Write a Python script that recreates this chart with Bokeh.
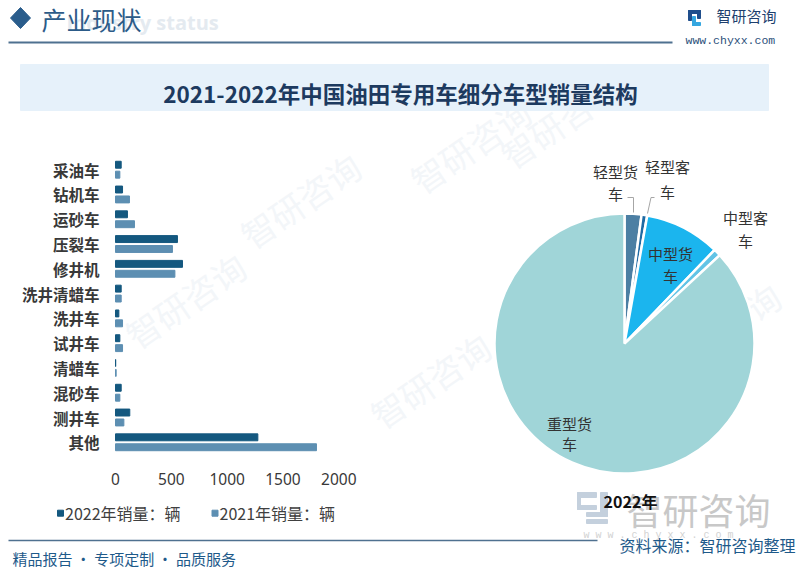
import numpy as np
from bokeh.plotting import figure
from bokeh.models import Range1d, ColumnDataSource
from bokeh.core.properties import value
from bokeh.transform import dodge
from bokeh.embed import file_html
from bokeh.resources import INLINE

# ---------------- data ----------------
categories = ["采油车", "钻机车", "运砂车", "压裂车", "修井机", "洗井清蜡车",
              "洗井车", "试井车", "清蜡车", "混砂车", "测井车", "其他"]
sales_2022 = [51, 63, 107, 555, 600, 51, 30, 39, 2, 51, 128, 1275]
sales_2021 = [39, 125, 170, 510, 532, 51, 63, 63, 6, 39, 75, 1800]
x_ticks = [0, 500, 1000, 1500, 2000]
series_names = ["2022年销量：辆", "2021年销量：辆"]

pie_labels = ["轻型货车", "轻型客车", "中型货车", "中型客车", "重型货车"]
pie_shares = [2.1, 0.7, 9.4, 0.9, 86.9]
pie_year = "2022年"

title_text = "2021-2022年中国油田专用车细分车型销量结构"

# ---------------- canvas ----------------
W, H = 800, 569
FONT = "Noto Sans CJK SC"


def X(px):
    return px


def Y(py):
    return H - py


p = figure(width=W, height=H, x_range=Range1d(0, W), y_range=Range1d(0, H),
           output_backend="svg", toolbar_location=None, min_border=0,
           x_axis_location=None, y_axis_location=None)
p.grid.visible = False
p.outline_line_color = None
p.background_fill_color = "white"
p.border_fill_color = "white"

# bar chart scales: value 0 -> page x 115, 2000 -> page x 338.3
ppu = (338.3 - 115) / 2000.0
bx0 = X(115)
p.extra_x_ranges = {"bar": Range1d(-bx0 / ppu, (W - bx0) / ppu)}
# category index 0 -> page y 169.2, step 24.78 px
cy0 = 169.2
step = 24.78
p.extra_y_ranges = {"bar": Range1d((H - cy0) / step, -cy0 / step)}


def txt(x, y, s, size, color, align="left", baseline="middle", bold=False,
        font=FONT, angle=0.0, alpha=1.0):
    p.text(x=[X(x)], y=[Y(y)], text=[s], text_font=value(font),
           text_font_size=f"{size}px", text_color=color, text_align=align,
           text_baseline=baseline, text_font_style="bold" if bold else "normal",
           angle=angle, text_alpha=alpha)


# ---------------- faint watermarks ----------------
wm_color = "#f3f6f9"
for (wx, wy) in [(185, 300), (470, 145), (430, 380), (300, 200), (560, 120),
                 (720, 330)]:
    txt(wx, wy, "智研咨询", 34, wm_color, align="center", angle=0.6)

# ---------------- header ----------------
p.patch([X(20), X(30), X(20), X(10)], [Y(7), Y(17.5), Y(28), Y(17.5)],
        color="#2a5d8c")
txt(66, 22, "Industry status", 20, "#e4eaf0", bold=True, font="Open Sans")
txt(41, 18, "产业现状", 25, "#2c5b88")
p.line([X(8), X(672)], [Y(42), Y(42)], line_color="#4f7190", line_width=2)

# logo
p.quad(left=[X(688), X(697), X(688)], right=[X(700), X(700), X(691)],
       top=[Y(10), Y(10), Y(10)], bottom=[Y(13), Y(18), Y(20)], color="#1f4e8c")
p.quad(left=[X(692), X(692)], right=[X(700), X(695)],
       top=[Y(22), Y(16)], bottom=[Y(25), Y(25)], color="#35a7e0")
txt(716, 15, "智研咨询", 15, "#1e3f6e")
txt(685, 40, "www.chyxx.com", 11.5, "#2a4f7a", font="Liberation Mono")

# title box
p.quad(left=[X(20)], right=[X(768)], top=[Y(64)], bottom=[Y(110)],
       color="#e6f1fa")
txt(400, 92, title_text, 22.5, "#1d3a5f", align="center", bold=True)

# ---------------- bar chart ----------------
idx = list(range(len(categories)))
src = ColumnDataSource(dict(idx=idx, cat=categories, v22=sales_2022,
                            v21=sales_2021))
c22, c21 = "#14587f", "#5d8fb2"
p.hbar(y=dodge("idx", -0.2), left=0, right="v22", height=0.28, source=src,
       color=c22, x_range_name="bar", y_range_name="bar")
p.hbar(y=dodge("idx", 0.2), left=0, right="v21", height=0.28, source=src,
       color=c21, x_range_name="bar", y_range_name="bar")
p.text(x=X(99), y="idx", text="cat", source=src, y_range_name="bar",
       text_font=value(FONT), text_font_size="15.5px", text_font_style="bold",
       text_color="#383838", text_align="right", text_baseline="middle")

# tick labels through the bar scale
p.text(x=x_ticks, y=[Y(478)] * len(x_ticks), text=[str(t) for t in x_ticks],
       x_range_name="bar", text_font=value("Noto Sans"), text_font_size="15.5px",
       text_color="#383838", text_align="center", text_baseline="middle")

# legend
for (lx, name, col) in [(60, series_names[0], c22), (214.5, series_names[1], c21)]:
    p.rect(x=[X(lx)], y=[Y(512.7)], width=6, height=6, color=col)
    txt(lx + 4.5, 512.7, name, 16, "#404040")

# ---------------- pie ----------------
shares = np.array(pie_shares, dtype=float)
shares = shares / shares.sum()
cum = np.concatenate([[0.0], np.cumsum(shares)])
starts = np.pi / 2 - 2 * np.pi * cum[:-1]
ends = np.pi / 2 - 2 * np.pi * cum[1:]
pie_colors = ["#4c7fa3", "#1f6aa3", "#1bb5ee", "#62c4e6", "#a0d5d8"]
psrc = ColumnDataSource(dict(s=starts, e=ends, c=pie_colors, lab=pie_labels))
p.wedge(x=X(624), y=Y(343), radius=130, radius_units="screen",
        start_angle="s", end_angle="e", direction="clock", fill_color="c",
        line_color="white", line_width=2.5, source=psrc)

# leader lines
p.line([X(627), X(633), X(633)], [Y(197), Y(197), Y(212)],
       line_color="#a6a6a6", line_width=1)
p.line([X(654), X(650.5), X(647)], [Y(197), Y(197), Y(213)],
       line_color="#a6a6a6", line_width=1)

label_pos = [((615, 171), (615, 193)),
             ((667, 166), (667, 191)),
             ((670, 253), (670, 275)),
             ((745, 217), (745, 240)),
             ((569, 423), (569, 443))]
for lab, (a, b) in zip(pie_labels, label_pos):
    txt(a[0], a[1], lab[:-1], 15, "#333333", align="center")
    txt(b[0], b[1], lab[-1], 15, "#333333", align="center")

# bottom-right watermark logo
p.quad(left=[X(577), X(577), X(577)], right=[X(596), X(580), X(596)],
       top=[Y(492), Y(492), Y(505)], bottom=[Y(497), Y(509), Y(509)],
       color="#c4d0dd")
p.quad(left=[X(586), X(586), X(600)], right=[X(607), X(607), X(607)],
       top=[Y(512), Y(519), Y(492)], bottom=[Y(516), Y(523), Y(516)],
       color="#c4d0dd")
txt(698, 508, "智研咨询", 36, "#c8c8c8", align="center")
txt(583, 535, "w w w . c h y x x . c o m", 10, "#d2d2d2", font="Liberation Mono")

txt(630, 500, pie_year, 16, "#111111", align="center", bold=True)

# ---------------- footer ----------------
p.line([X(8), X(597)], [Y(540), Y(540)], line_color="#4f7190", line_width=1.5)
txt(12, 558, "精品报告 · 专项定制 · 品质服务", 15, "#1e5a8a")
txt(795, 544, "资料来源：智研咨询整理", 16, "#1e5a8a", align="right")

open("out.html", "w").write(file_html(p, INLINE))
